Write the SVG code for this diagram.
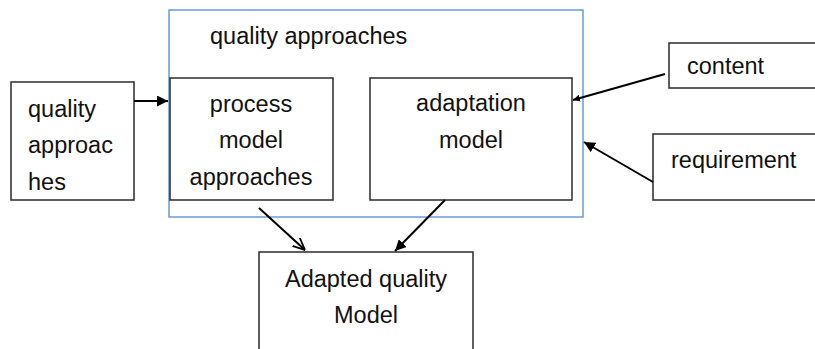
<svg xmlns="http://www.w3.org/2000/svg" width="815" height="349" viewBox="0 0 815 349">
<defs>
<style>
.box{fill:#fff;stroke:#2b2b2b;stroke-width:1.5}
.outer{fill:none;stroke:#6a9bd6;stroke-width:1.5}
.t{font-family:"Liberation Sans",Arial,sans-serif;font-size:23.5px;fill:#111}
.c{text-anchor:middle}
.ln{stroke:#000;stroke-width:2;fill:none}
</style>
<marker id="fa" viewBox="0 0 10 10" refX="10" refY="5" markerWidth="7" markerHeight="7" markerUnits="userSpaceOnUse" orient="auto">
<path d="M0,0 L10,5 L0,10 z" fill="#000"/>
</marker>
<marker id="fb" viewBox="0 0 10 10" refX="10" refY="5" markerWidth="11" markerHeight="11" markerUnits="userSpaceOnUse" orient="auto">
<path d="M0,0 L10,5 L0,10 z" fill="#000"/>
</marker>
<marker id="oa" viewBox="0 0 10 10" refX="10" refY="5" markerWidth="12" markerHeight="12" markerUnits="userSpaceOnUse" orient="auto">
<path d="M0,0.5 L10,5 L0,9.5" fill="none" stroke="#000" stroke-width="1.5"/>
</marker>
</defs>
<rect width="815" height="349" fill="#fff"/>
<g id="container">
<rect class="outer" x="169" y="10" width="414" height="207"/>
<text class="t" x="210" y="44">quality approaches</text>
</g>
<g id="quality-approaches">
<rect class="box" x="11" y="82" width="123" height="118"/>
<text class="t" x="28" y="117">quality</text>
<text class="t" x="28" y="153">approac</text>
<text class="t" x="28" y="190">hes</text>
</g>
<g id="process-model">
<rect class="box" x="170" y="78" width="163" height="122"/>
<text class="t c" x="251" y="112">process</text>
<text class="t c" x="251" y="148">model</text>
<text class="t c" x="251" y="185">approaches</text>
</g>
<g id="adaptation-model">
<rect class="box" x="370" y="78" width="202" height="122"/>
<text class="t c" x="471" y="111">adaptation</text>
<text class="t c" x="471" y="148">model</text>
</g>
<g id="content">
<rect class="box" x="669" y="43" width="160" height="45"/>
<text class="t" x="687" y="74">content</text>
</g>
<g id="requirement">
<rect class="box" x="653" y="134" width="176" height="66"/>
<text class="t" x="671" y="168">requirement</text>
</g>
<g id="adapted-quality-model">
<rect class="box" x="259" y="252" width="214" height="110"/>
<text class="t c" x="366" y="287">Adapted quality</text>
<text class="t c" x="366" y="323">Model</text>
</g>
<g id="connectors">
<line class="ln" x1="134" y1="101" x2="168" y2="101" marker-end="url(#fb)"/>
<line class="ln" x1="665" y1="74" x2="573" y2="100" marker-end="url(#fa)"/>
<line class="ln" x1="653" y1="182" x2="584" y2="142" marker-end="url(#fb)"/>
<line class="ln" x1="259" y1="208" x2="305" y2="250" marker-end="url(#oa)"/>
<line class="ln" x1="445" y1="200" x2="395" y2="251" marker-end="url(#fb)"/>
</g>
</svg>
